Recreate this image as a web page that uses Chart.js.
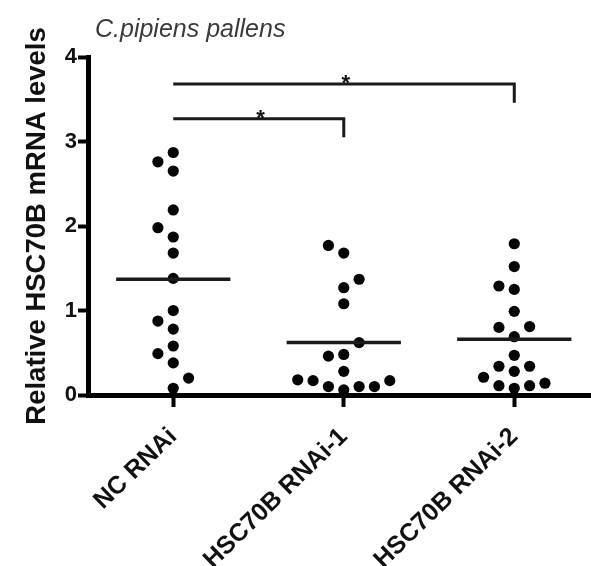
<!DOCTYPE html>
<html><head><meta charset="utf-8">
<script src="https://cdn.jsdelivr.net/npm/chart.js@4/dist/chart.umd.min.js"></script>
<style>html,body{margin:0;padding:0;background:#fff;overflow:hidden}</style>
</head><body>
<canvas id="c" width="591" height="566"></canvas>
<script>
// ---- data ----
const categories = ['NC RNAi', 'HSC70B RNAi-1', 'HSC70B RNAi-2'];
const yTicks = [0, 1, 2, 3, 4];
const chartTitle = 'C.pipiens pallens';
const yTitle = 'Relative HSC70B mRNA levels';

const ncValues   = [2.87, 2.76, 2.65, 2.19, 1.98, 1.87, 1.68, 1.38, 1.00, 0.875, 0.78, 0.58, 0.49, 0.38, 0.20, 0.08];
const ncJitter   = [0, -1, 0, 0, -1, 0, 0, 0, 0, -1, 0, 0, -1, 0, 1, 0];
const rnai1Values = [1.77, 1.68, 1.37, 1.27, 1.08, 0.62, 0.46, 0.48, 0.28, 0.18, 0.17, 0.10, 0.06, 0.10, 0.10, 0.17];
const rnai1Jitter = [-1, 0, 1, 0, 0, 1, -1, 0, 0, -3, -2, -1, 0, 1, 2, 3];
const rnai2Values = [1.79, 1.52, 1.29, 1.25, 0.99, 0.80, 0.81, 0.69, 0.47, 0.34, 0.34, 0.28, 0.21, 0.11, 0.08, 0.11, 0.14];
const rnai2Jitter = [0, 0, -1, 0, 0, -1, 1, 0, 0, -1, 1, 0, -2, -1, 0, 1, 2];

const groupMeans = [1.37, 0.62, 0.66];

const sigFrom   = [1, 1];
const sigTo     = [2, 3];
const sigLevel  = [3.27, 3.68];
const sigDrop   = [3.05, 3.46];
const sigLabels = ['*', '*'];

// ---- drawing ----
const FONT = '"Liberation Sans", Arial, Helvetica, sans-serif';
Chart.defaults.font.family = FONT;
const JIT = 0.09;      // horizontal jitter step (category units)
const HALF = 0.335;    // half width of mean line

const groups = [[ncValues, ncJitter], [rnai1Values, rnai1Jitter], [rnai2Values, rnai2Jitter]];
const datasets = [];
groups.forEach(([vals, jit], gi) => {
  datasets.push({
    type: 'scatter',
    data: vals.map((v, i) => ({x: gi + 1 + jit[i] * JIT, y: v})),
    pointRadius: 5.6, pointHoverRadius: 5.6,
    backgroundColor: '#050505', borderWidth: 0, clip: false, order: 2
  });
});
groupMeans.forEach((m, gi) => {
  datasets.push({
    type: 'line',
    data: [{x: gi + 1 - HALF, y: m}, {x: gi + 1 + HALF, y: m}],
    borderColor: '#1a1a1a', borderWidth: 3.5, pointRadius: 0, tension: 0, clip: false, order: 1
  });
});
sigFrom.forEach((f, i) => {
  datasets.push({
    type: 'line',
    data: [{x: f, y: sigLevel[i]}, {x: sigTo[i], y: sigLevel[i]}, {x: sigTo[i], y: sigDrop[i]}],
    borderColor: '#1a1a1a', borderWidth: 3, pointRadius: 0, tension: 0, clip: false, order: 1,
    borderJoinStyle: 'miter'
  });
});

const annot = {
  id: 'annot',
  afterDraw(chart) {
    const {ctx, scales: {x, y}} = chart;
    ctx.save();
    ctx.fillStyle = '#3a3a3a';
    ctx.font = 'italic 25px ' + FONT;
    ctx.textAlign = 'left';
    ctx.textBaseline = 'alphabetic';
    ctx.fillText(chartTitle, 95, 37);
    ctx.fillStyle = '#111';
    ctx.font = 'bold 22px ' + FONT;
    ctx.textAlign = 'center';
    sigFrom.forEach((f, i) => {
      const px = x.getPixelForValue((f + sigTo[i]) / 2) + 2;
      const py = y.getPixelForValue(sigLevel[i]);
      ctx.fillText(sigLabels[i], px, py + 6);
    });
    ctx.restore();
  }
};

new Chart(document.getElementById('c'), {
  type: 'scatter',
  data: {datasets},
  options: {
    responsive: false, animation: false, devicePixelRatio: 1,
    layout: {autoPadding: false, padding: {top: 57, left: 0, right: 0, bottom: 0}},
    plugins: {legend: {display: false}, title: {display: false}, tooltip: {enabled: false}},
    scales: {
      x: {
        type: 'linear', min: 0.5, max: 3.45,
        afterBuildTicks: s => { s.ticks = categories.map((c, i) => ({value: i + 1})); },
        afterFit: s => { s.height = 171; s.paddingLeft = 0; s.paddingRight = 0; },
        border: {display: true, color: '#000', width: 5},
        grid: {drawOnChartArea: false, drawTicks: true, tickLength: 12, tickWidth: 4, tickColor: '#000'},
        ticks: {
          autoSkip: false, minRotation: 44, maxRotation: 44, padding: 15, color: '#111',
          font: {size: 25, weight: 'bold'},
          callback: v => categories[v - 1] ?? ''
        }
      },
      y: {
        min: 0, max: 4,
        afterBuildTicks: s => { s.ticks = yTicks.map(v => ({value: v})); },
        afterFit: s => { s.width = 88; s.paddingTop = 0; s.paddingBottom = 0; },
        border: {display: true, color: '#000', width: 5},
        grid: {drawOnChartArea: false, drawTicks: true, tickLength: 10, tickWidth: 4, tickColor: '#000'},
        ticks: {padding: 1, color: '#111', font: {size: 22, weight: 'bold'}},
        title: {display: true, text: yTitle, color: '#111', font: {size: 27.5, weight: 'bold'}, padding: {top: 21, bottom: 0}}
      }
    }
  },
  plugins: [annot]
});
</script>
</body></html>
